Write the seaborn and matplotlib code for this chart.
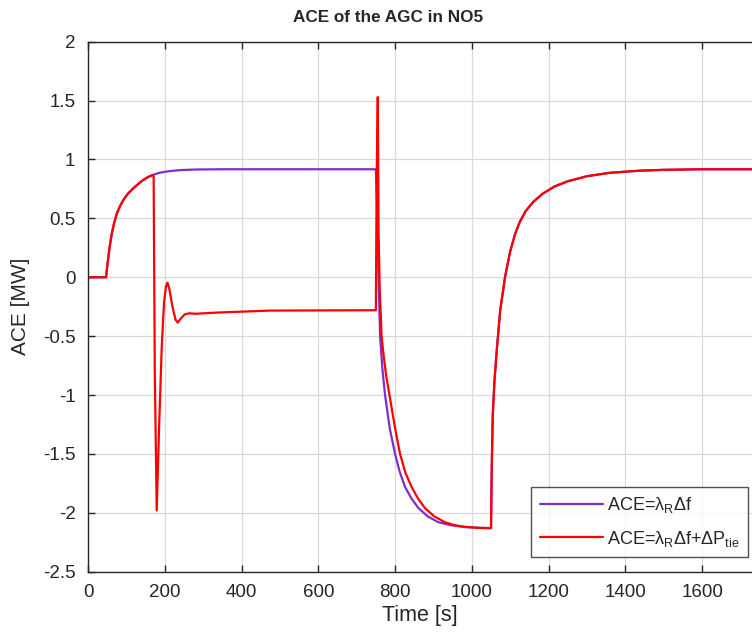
import numpy as np
import pandas as pd
import matplotlib
matplotlib.use("Agg")
import matplotlib.pyplot as plt
from matplotlib.ticker import FuncFormatter
import seaborn as sns

# ---- data ----
# common initial rise (both signals identical)
rise_t = [0, 47, 50, 53, 57, 62, 68, 75, 83, 92, 104, 118, 130, 144, 156, 168]
rise_v = [0, 0, 0.09, 0.17, 0.27, 0.37, 0.46, 0.54, 0.60, 0.656, 0.71, 0.755, 0.79, 0.826, 0.85, 0.868]

# ACE = lambda_R * df  (purple) 170 .. 1050 s
p_mid_t = [187, 210, 240, 283, 350, 500, 750, 753, 757, 761, 767, 774, 786, 800, 812,
           826, 843, 861, 885, 913, 945, 982, 1020]
p_mid_v = [0.888, 0.90, 0.91, 0.915, 0.917, 0.917, 0.917, 0.6, 0.0, -0.5, -0.78, -1.0, -1.28,
           -1.5, -1.65, -1.78, -1.88, -1.96, -2.03, -2.08, -2.105, -2.12, -2.128]

# ACE = lambda_R * df + dP_tie (red) 170 .. 1050 s
r_mid_t = [171, 174, 179, 185, 192, 198, 203, 207, 212, 220, 228, 234, 242, 252, 264, 280,
           335, 474, 750, 752, 755, 757, 760, 765, 770, 777, 787, 800, 813, 827, 843, 860, 878,
           902, 930, 955, 982, 1020]
r_mid_v = [0.86, -0.8, -1.98, -1.3, -0.6, -0.22, -0.08, -0.046, -0.1, -0.25, -0.36, -0.385,
           -0.35, -0.315, -0.306, -0.31, -0.30, -0.283, -0.28, 0.8, 1.53, 0.4, -0.1, -0.5,
           -0.66, -0.84, -1.03, -1.28, -1.5, -1.66, -1.78, -1.88, -1.96, -2.03, -2.08, -2.105,
           -2.12, -2.128]

# common recovery (both signals identical)
rec_t = [1050, 1052, 1054.5, 1059, 1065, 1074, 1087, 1100, 1113, 1125, 1140, 1160, 1185,
         1215, 1250, 1300, 1360, 1438, 1500, 1600, 1730]
rec_v = [-2.13, -1.6, -1.18, -0.88, -0.62, -0.28, 0.01, 0.22, 0.37, 0.47, 0.56, 0.64, 0.71,
         0.77, 0.815, 0.858, 0.887, 0.905, 0.912, 0.917, 0.917]

labels = [r'ACE=$\lambda_{\mathrm{R}}\Delta$f',
          r'ACE=$\lambda_{\mathrm{R}}\Delta$f+$\Delta$P$_{\mathrm{tie}}$']
colors = ['#7B2FD0', '#FF0000']

x_ticks = [0, 200, 400, 600, 800, 1000, 1200, 1400, 1600]
y_ticks = [-2.5, -2, -1.5, -1, -0.5, 0, 0.5, 1, 1.5, 2]

# ---- build table ----
purple_t = rise_t + p_mid_t + rec_t
purple_v = rise_v + p_mid_v + rec_v
red_t = rise_t + r_mid_t + rec_t
red_v = rise_v + r_mid_v + rec_v
df = pd.concat([
    pd.DataFrame({'t': purple_t, 'v': purple_v, 's': labels[0]}),
    pd.DataFrame({'t': red_t, 'v': red_v, 's': labels[1]}),
], ignore_index=True)

sns.set_style('white')
plt.rcParams['font.family'] = ['Liberation Sans', 'DejaVu Sans']
plt.rcParams['mathtext.fontset'] = 'custom'
plt.rcParams['mathtext.rm'] = 'Liberation Sans'
plt.rcParams['mathtext.it'] = 'Liberation Sans'
plt.rcParams['mathtext.bf'] = 'Liberation Sans:bold'
plt.rcParams['axes.unicode_minus'] = False

fig = plt.figure(figsize=(7.52, 6.33), dpi=100)
ax = fig.add_axes([88 / 752, 1 - 571.7 / 633, 664 / 752, 530 / 633])

sns.lineplot(data=df, x='t', y='v', hue='s', hue_order=labels, palette=colors,
             sort=False, estimator=None, units='s', linewidth=1.6, ax=ax)

ax.set_xlim(0, 1730)
ax.set_ylim(-2.5, 2)
ax.set_xticks(x_ticks)
ax.set_yticks(y_ticks)
ax.yaxis.set_major_formatter(FuncFormatter(lambda v, p: '%g' % v))
ax.grid(True, color='#d9d9d9', linewidth=0.9)
ax.set_axisbelow(True)
for side in ['left', 'top', 'bottom']:
    ax.spines[side].set_color('#262626')
    ax.spines[side].set_linewidth(1.0)
ax.spines['right'].set_visible(False)
ax.tick_params(direction='in', top=True, bottom=True, left=True, right=False,
               length=5, width=1, color='#262626', labelsize=13.5, labelcolor='#262626')
ax.tick_params(axis='x', pad=9)
ax.tick_params(axis='y', pad=9)

ax.set_xlabel('Time [s]', fontsize=15.5, color='#262626', labelpad=3)
ax.set_ylabel('ACE [MW]', fontsize=15, color='#262626', labelpad=9)
ax.set_title('ACE of the AGC in NO5', fontsize=12.3, fontweight='bold', x=0.4526, pad=14)

leg = ax.legend(loc='lower right', bbox_to_anchor=(0.994, 0.028), borderaxespad=0,
                fontsize=13, frameon=True, fancybox=False, edgecolor='#262626',
                handlelength=3.5, handletextpad=0.25, borderpad=0.45, labelspacing=0.75,
                title=None)
leg.get_frame().set_linewidth(1.0)
for line in leg.get_lines():
    line.set_linewidth(1.6)

fig.savefig('out.png', dpi=100)
